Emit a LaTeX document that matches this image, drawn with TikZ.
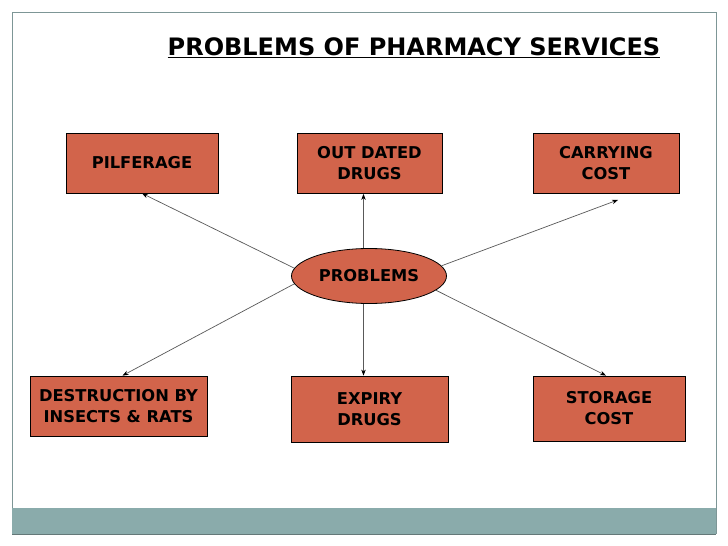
\documentclass[tikz,border=0pt]{standalone}
\usepackage{fontspec}
\setmainfont{DejaVu Sans}
\usetikzlibrary{shapes.geometric,arrows.meta}
\definecolor{boxfill}{RGB}{210,100,75}
\definecolor{barfill}{RGB}{138,171,171}
\definecolor{framecol}{RGB}{125,150,150}
\tikzset{
  probbox/.style={draw=black, line width=0.8pt, fill=boxfill, align=center,
    font=\fontsize{16.3}{21}\selectfont\bfseries, inner sep=0pt},
  conn/.style={draw=gray!70!black, line width=0.7pt, -{Stealth[black,length=6pt,width=4.5pt]}}
}
\begin{document}
\begin{tikzpicture}[x=1pt,y=-1pt]
\useasboundingbox (0,0) rectangle (728,546);
\fill[white] (0,0) rectangle (728,546);
% frame and bar
\draw[framecol, line width=0.8pt] (12,534) -- (12,12) -- (716,12) -- (716,534);
\fill[barfill] (12,508) rectangle (716,534);
\draw[framecol!80!black, line width=0.6pt] (12,534) -- (716,534);
% title
\node (title) at (414,48) {\fontsize{24}{26}\selectfont\bfseries\underline{PROBLEMS OF PHARMACY SERVICES}};
% boxes
\node[probbox, minimum width=152pt, minimum height=60pt] (pil) at (142,163) {PILFERAGE};
\node[probbox, minimum width=145pt, minimum height=60pt] (out) at (369.5,163.5) {OUT DATED\\DRUGS};
\node[probbox, minimum width=146pt, minimum height=60pt] (car) at (606,163.5) {CARRYING\\COST};
\node[probbox, minimum width=177pt, minimum height=60pt] (des) at (118.5,406) {DESTRUCTION BY\\INSECTS \& RATS};
\node[probbox, minimum width=157pt, minimum height=66pt] (exp) at (369.5,409) {EXPIRY\\DRUGS};
\node[probbox, minimum width=152pt, minimum height=65pt] (sto) at (609,408.5) {STORAGE\\COST};
\node[probbox, ellipse, minimum width=155pt, minimum height=55pt] (prob) at (369,276) {PROBLEMS};
% connectors
\draw[conn] (prob.174) -- (pil.south);
\draw[conn] ([xshift=-5.5pt]prob.north) -- ([xshift=-6pt]out.south);
\draw[conn] (prob.8) -- ([xshift=12pt,yshift=-6pt]car.south);
\draw[conn] (prob.186) -- ([xshift=4pt]des.north);
\draw[conn] ([xshift=-5.5pt]prob.south) -- ([xshift=-6pt]exp.north);
\draw[conn] (prob.-12) -- ([xshift=-3pt]sto.north);
\end{tikzpicture}
\end{document}
